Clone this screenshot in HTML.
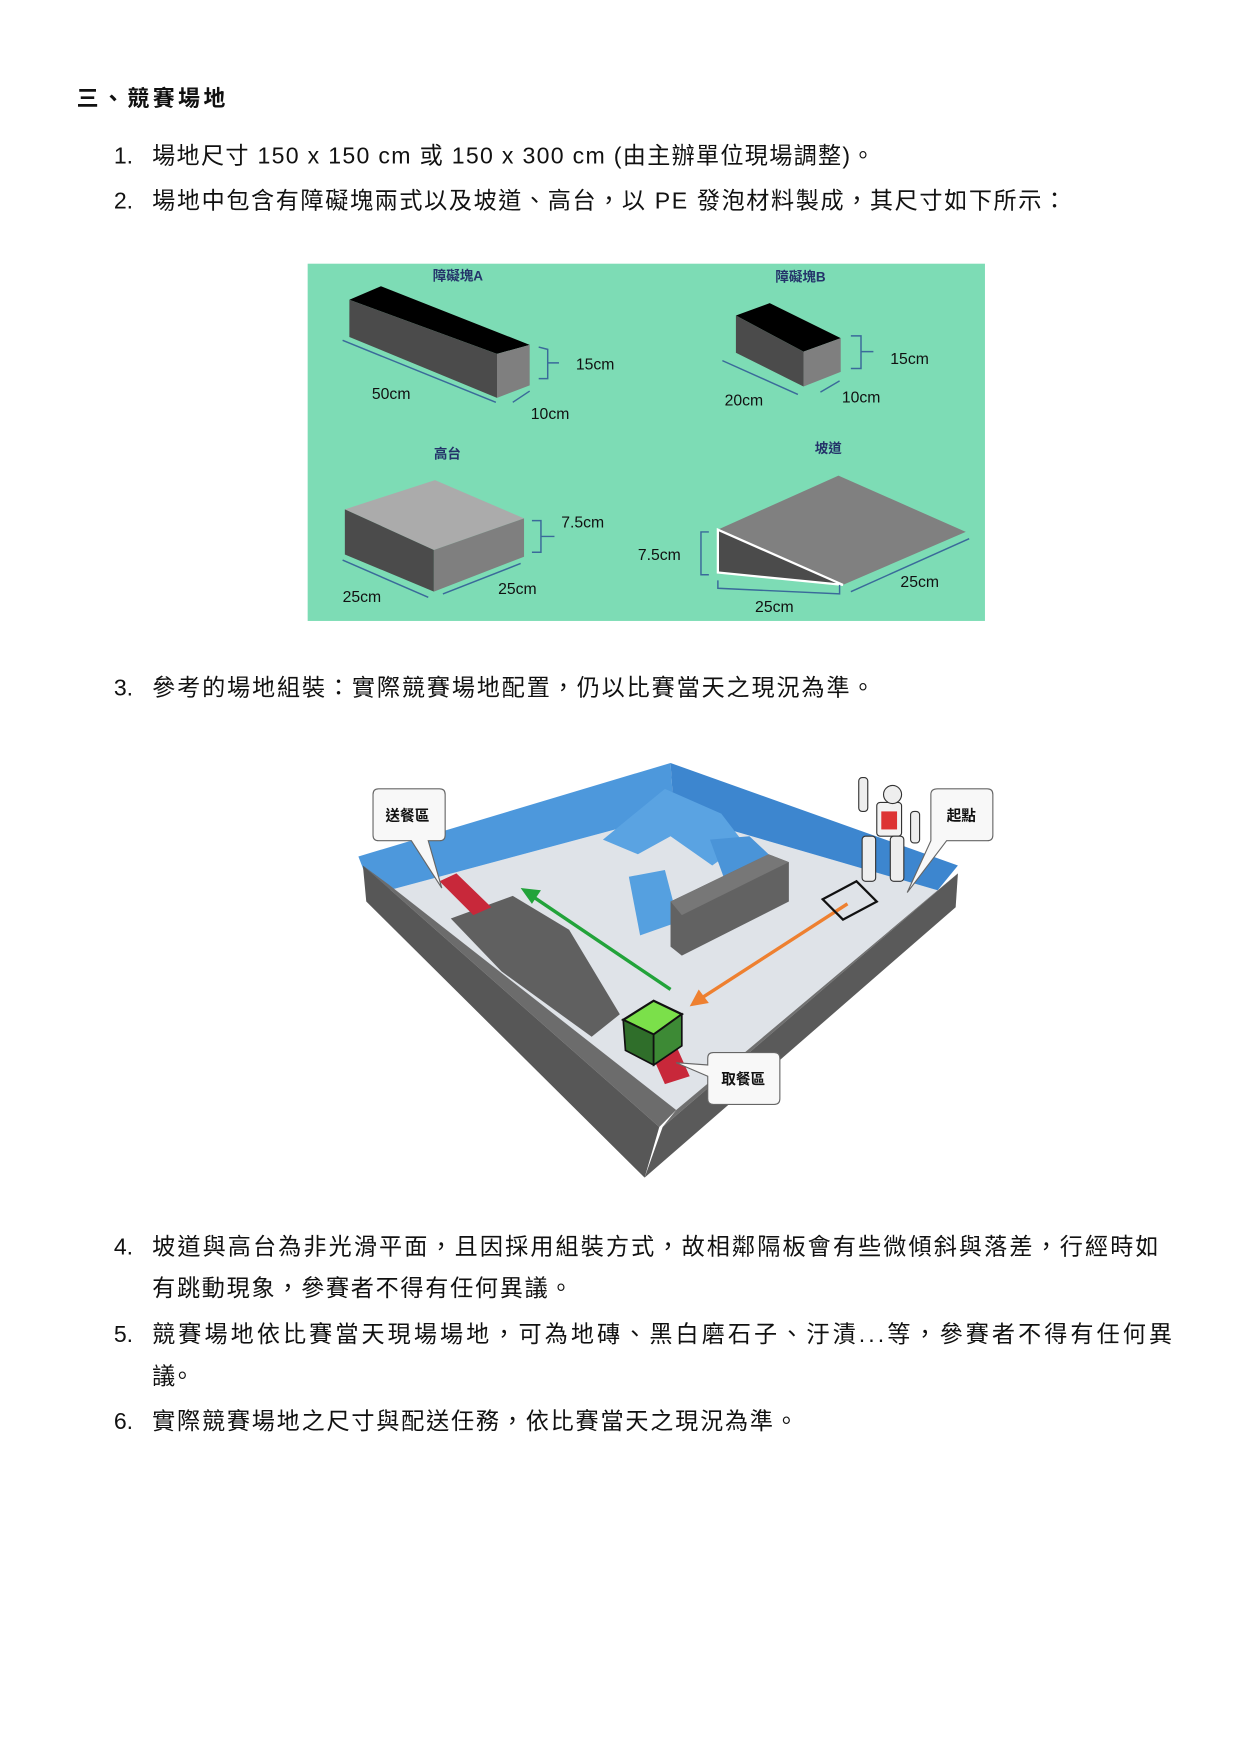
<!DOCTYPE html>
<html><head><meta charset="utf-8"><style>
html,body{margin:0;padding:0;background:#fff;width:1240px;height:1755px;overflow:hidden}
svg{display:block}
text{font-family:"Liberation Sans","Noto Sans CJK TC",sans-serif;fill:#111}
</style></head><body>
<svg width="1240" height="1755" viewBox="0 0 1100.3 1557.3" xmlns="http://www.w3.org/2000/svg">
<text x="68" y="94" font-size="19.5" font-weight="bold" textLength="132" lengthAdjust="spacing">三、競賽場地</text>
<g font-size="20.5">
<text x="101" y="145">1.</text><text x="135" y="145" textLength="641" lengthAdjust="spacing">場地尺寸 150 x 150 cm 或 150 x 300 cm (由主辦單位現場調整)。</text>
<text x="101" y="185">2.</text><text x="135" y="185" textLength="811" lengthAdjust="spacing">場地中包含有障礙塊兩式以及坡道、高台，以 PE 發泡材料製成，其尺寸如下所示：</text>
<text x="101" y="617">3.</text><text x="135" y="617" textLength="641" lengthAdjust="spacing">參考的場地組裝：實際競賽場地配置，仍以比賽當天之現況為準。</text>
<text x="101" y="1113">4.</text><text x="135" y="1113" textLength="893" lengthAdjust="spacing">坡道與高台為非光滑平面，且因採用組裝方式，故相鄰隔板會有些微傾斜與落差，行經時如</text>
<text x="135" y="1150" textLength="373" lengthAdjust="spacing">有跳動現象，參賽者不得有任何異議。</text>
<text x="101" y="1191">5.</text><text x="135" y="1191" textLength="905" lengthAdjust="spacing">競賽場地依比賽當天現場場地，可為地磚、黑白磨石子、汙漬...等，參賽者不得有任何異</text>
<text x="135" y="1228" textLength="37" lengthAdjust="spacing">議。</text>
<text x="101" y="1268">6.</text><text x="135" y="1268" textLength="573" lengthAdjust="spacing">實際競賽場地之尺寸與配送任務，依比賽當天之現況為準。</text>
</g>
<!-- green figure -->
<rect x="273" y="234" width="601" height="317" fill="#7ddcb5"/>
<g font-size="12" font-weight="bold">
<text x="384" y="249" style="fill:#24346a">障礙塊A</text><text x="688" y="250" style="fill:#24346a">障礙塊B</text>
<text x="385" y="407" style="fill:#24346a">高台</text><text x="723" y="402" style="fill:#24346a">坡道</text>
</g>
<polygon points="310,266 338,254 470,306 441,314" fill="#000"/>
<polygon points="310,266 441,314 441,353 310,299" fill="#4b4b4b"/>
<polygon points="441,314 470,306 470,342 441,353" fill="#7f7f7f"/>
<polygon points="653,280 683,269 746,300 713,312" fill="#000"/>
<polygon points="653,280 713,312 713,343 653,313" fill="#4b4b4b"/>
<polygon points="713,312 746,300 746,330 713,343" fill="#7f7f7f"/>
<polygon points="306,452 386,426 465,460 385,488" fill="#ababab"/>
<polygon points="306,452 385,488 385,525 306,492" fill="#4b4b4b"/>
<polygon points="385,488 465,460 465,494 385,525" fill="#7f7f7f"/>
<polygon points="637,470 744,422 857,472 748,519" fill="#808080"/>
<polygon points="637,470 748,519 637,508" fill="#4b4b4b" stroke="#fff" stroke-width="2"/>
<g stroke="#3a6a9a" stroke-width="1.3" fill="none">
<path d="M304,302 L440,357 M478,308 L486,310 L486,336 L478,336 M486,322 L496,322 M455,357 L470,347"/>
<path d="M641,320 L708,350 M755,298 L764,298 L764,327 L755,327 M764,312 L775,312 M728,348 L745,338"/>
<path d="M304,497 L380,530 M393,527 L462,500 M472,462 L480,462 L480,490 L472,490 M480,476 L492,476"/>
<path d="M629,472 L622,472 L622,510 L629,510 M637,515 L637,522 L745,527 L745,519 M755,525 L860,478"/>
</g>
<g font-size="14" style="font-family:'DejaVu Sans',sans-serif">
<text x="511" y="328">15cm</text><text x="330" y="354">50cm</text><text x="471" y="372">10cm</text>
<text x="790" y="323">15cm</text><text x="643" y="360">20cm</text><text x="747" y="357">10cm</text>
<text x="498" y="468">7.5cm</text><text x="566" y="497">7.5cm</text>
<text x="304" y="534">25cm</text><text x="442" y="527">25cm</text><text x="799" y="521">25cm</text><text x="670" y="543">25cm</text>
</g>
<!-- field photo -->
<polygon points="345,790 598,722 832,790 600,985" fill="#dfe3e8"/>
<polygon points="318,760 595,677 598,722 345,790 328,786" fill="#4d98dc"/>
<polygon points="595,677 850,768 832,790 598,722" fill="#3d86cf"/>
<polygon points="322,768 345,785 600,985 585,1000" fill="#6c6c6c"/>
<polygon points="322,768 585,1000 572,1045 325,800" fill="#575757"/>
<polygon points="600,985 832,790 850,775 588,1000" fill="#707070"/>
<polygon points="588,1000 850,775 848,805 572,1045" fill="#5a5a5a"/>
<polygon points="400,815 455,795 505,825 550,900 525,920 445,862" fill="#606060"/>
<polygon points="535,745 590,700 640,722 660,748 632,768 595,742 566,758" fill="#5aa3e2"/>
<polygon points="630,745 665,742 682,758 642,778" fill="#4a94d8"/>
<polygon points="558,778 590,772 602,818 568,830" fill="#55a0e0"/>
<polygon points="595,800 682,758 700,765 700,800 605,848 595,840" fill="#626262"/>
<polygon points="682,758 700,765 605,812 595,800" fill="#777"/>
<line x1="595" y1="878" x2="472" y2="795" stroke="#22a33a" stroke-width="3"/>
<polygon points="462,788 480,790 472,802" fill="#22a33a"/>
<line x1="752" y1="802" x2="622" y2="886" stroke="#ee8030" stroke-width="3"/>
<polygon points="612,893 620,878 629,890" fill="#ee8030"/>
<polygon points="390,782 405,775 436,805 420,812" fill="#c8283a"/>
<polygon points="578,935 600,928 612,955 590,962" fill="#c8283a"/>
<polygon points="553,905 580,888 605,900 580,918" fill="#7be04a" stroke="#111" stroke-width="2"/>
<polygon points="553,905 580,918 580,945 555,932" fill="#2f6e2a" stroke="#111" stroke-width="1.5"/>
<polygon points="580,918 605,900 605,928 580,945" fill="#3d8a35" stroke="#111" stroke-width="1.5"/>
<polygon points="730,798 760,782 778,800 748,816" fill="none" stroke="#111" stroke-width="2"/>
<g fill="#eee" stroke="#333" stroke-width="1">
<rect x="778" y="712" width="22" height="30" rx="3" fill="#f2f2f2"/>
<circle cx="792" cy="705" r="8"/>
<rect x="765" y="742" width="12" height="40" rx="3"/>
<rect x="790" y="742" width="12" height="40" rx="3"/>
<rect x="762" y="690" width="8" height="30" rx="3"/>
<rect x="808" y="720" width="8" height="28" rx="3"/>
</g>
<rect x="782" y="720" width="14" height="16" fill="#d33"/>
<g fill="#f8f8f8" stroke="#666" stroke-width="1">
<path d="M336,700 H390 Q395,700 395,705 V741 Q395,746 390,746 H380 L392,788 L365,746 H336 Q331,746 331,741 V705 Q331,700 336,700 Z"/>
<path d="M832,700 H876 Q881,700 881,705 V741 Q881,746 876,746 H840 L805,792 L826,746 Q826,746 826,741 V705 Q826,700 832,700 Z"/>
<path d="M633,934 H687 Q692,934 692,939 V975 Q692,980 687,980 H633 Q628,980 628,975 V955 L600,943 L628,945 V939 Q628,934 633,934 Z"/>
</g>
<g font-size="13" font-weight="bold">
<text x="342" y="728">送餐區</text><text x="840" y="728">起點</text><text x="640" y="962">取餐區</text>
</g>
</svg>
</body></html>
